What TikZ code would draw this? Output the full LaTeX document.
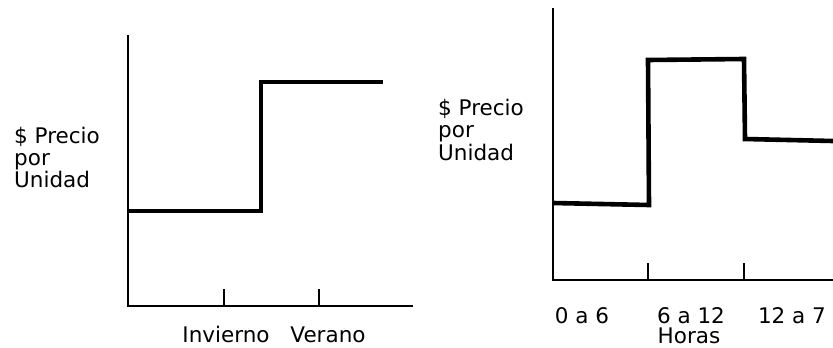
\documentclass[tikz,border=0pt]{standalone}
\usepackage{fontspec}
\setmainfont{DejaVu Sans}
\begin{document}
\begin{tikzpicture}[x=1pt,y=-1pt,
  axis/.style={line width=1.3pt,draw=black},
  tick/.style={line width=1.3pt},
  stepline/.style={line width=4.6pt,line join=miter},
  lbl/.style={font=\fontsize{21.5}{22}\selectfont,inner sep=0pt,anchor=base west},
  xl/.style={font=\fontsize{21.5}{22}\selectfont,inner sep=0pt,anchor=base}]
\useasboundingbox (0,0) rectangle (833,348);
% left chart
\coordinate (L0) at (128,306);
\draw[axis] (128,35) -- (L0) -- (413,306);
\draw[tick] (224,289) -- (224,306);
\draw[tick] (319,289) -- (319,306);
\draw[stepline] (128,211) -- (261,211) -- (261,82) -- (383,82);
\node[lbl] (ly1) at (14,143) {\$ Precio};
\node[lbl] (ly2) at (14,165) {por};
\node[lbl] (ly3) at (14,187) {Unidad};
\node[xl] (inv) at (226,342) {Invierno};
\node[xl] (ver) at (328,342) {Verano};
% right chart
\coordinate (R0) at (553,280);
\draw[axis] (553,8) -- (R0) -- (833,280);
\draw[tick] (648,263) -- (648,280);
\draw[tick] (744,263) -- (744,280);
\draw[stepline] (553,203) -- (649,205) -- (648,60) -- (744,59) -- (745,139) -- (833,141);
\node[lbl] (ry1) at (438,115) {\$ Precio};
\node[lbl] (ry2) at (438,137.5) {por};
\node[lbl] (ry3) at (438,160) {Unidad};
\node[xl] (h1) at (582,323) {0 a 6};
\node[xl] (h2) at (691,323) {6 a 12};
\node[xl] (h3) at (792,323) {12 a 7};
\node[xl] (hr) at (689,343) {Horas};
\end{tikzpicture}
\end{document}
